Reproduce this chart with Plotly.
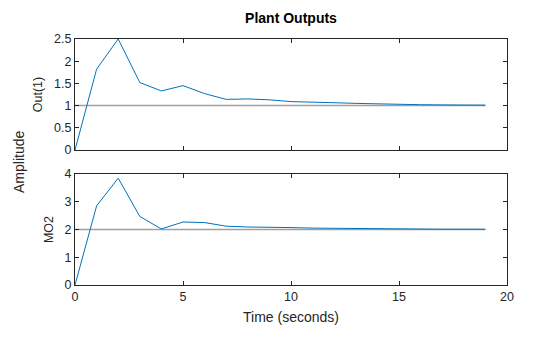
import plotly.graph_objects as go

time = list(range(20))
out1 = [0, 1.82, 2.5, 1.52, 1.33, 1.45, 1.27, 1.14, 1.15, 1.13, 1.09, 1.07, 1.065, 1.05, 1.035, 1.03, 1.02, 1.015, 1.01, 1.01]
mo2 = [0, 2.85, 3.85, 2.47, 2.02, 2.27, 2.25, 2.12, 2.09, 2.09, 2.07, 2.05, 2.04, 2.03, 2.03, 2.02, 2.015, 2.01, 2.01, 2.01]
ref1 = [1] * 20
ref2 = [2] * 20

blue = "#0072BD"
gray = "#A0A0A0"
font = "Liberation Sans, Arial, sans-serif"

fig = go.Figure()
fig.add_trace(go.Scatter(x=time, y=ref1, mode="lines", line=dict(color=gray, width=1.5), xaxis="x", yaxis="y", showlegend=False))
fig.add_trace(go.Scatter(x=time, y=out1, mode="lines", line=dict(color=blue, width=1), xaxis="x", yaxis="y", showlegend=False))
fig.add_trace(go.Scatter(x=time, y=ref2, mode="lines", line=dict(color=gray, width=1.5), xaxis="x2", yaxis="y2", showlegend=False))
fig.add_trace(go.Scatter(x=time, y=mo2, mode="lines", line=dict(color=blue, width=1), xaxis="x2", yaxis="y2", showlegend=False))

axcommon = dict(showline=True, linecolor="#262626", linewidth=1, mirror="allticks", ticks="inside",
                ticklen=4, tickcolor="#262626", showgrid=False, zeroline=False,
                tickfont=dict(family=font, size=12.5, color="#262626"))

fig.update_layout(
    width=560, height=337,
    margin=dict(l=75, r=53, t=39, b=52),
    plot_bgcolor="white", paper_bgcolor="white",
    font=dict(family=font, color="#262626"),
    title=dict(text="<b>Plant Outputs</b>", x=0.5, xanchor="center", xref="paper", y=1 - 18/337, yanchor="middle",
               font=dict(family=font, size=14, color="black")),
    xaxis=dict(domain=[0, 1], range=[0, 20], tickvals=[0, 5, 10, 15, 20], showticklabels=False, anchor="y", **axcommon),
    yaxis=dict(domain=[0.5488, 1], range=[0, 2.5], tickvals=[0, 0.5, 1, 1.5, 2, 2.5], anchor="x",
               title=dict(text="Out(1)", font=dict(family=font, size=12.5), standoff=8), **axcommon),
    xaxis2=dict(domain=[0, 1], range=[0, 20], tickvals=[0, 5, 10, 15, 20], anchor="y2",
                title=dict(text="Time (seconds)", font=dict(family=font, size=14), standoff=9), **axcommon),
    yaxis2=dict(domain=[0, 0.4512], range=[0, 4], tickvals=[0, 1, 2, 3, 4], anchor="x2",
                title=dict(text="MO2", font=dict(family=font, size=12.5), standoff=8), **axcommon),
)
fig.add_annotation(text="Amplitude", xref="paper", yref="paper", x=(19 - 75) / 432, y=0.5, xanchor="center", yanchor="middle",
                   textangle=-90, showarrow=False, font=dict(family=font, size=14, color="#262626"))

fig.write_html("out.html")
